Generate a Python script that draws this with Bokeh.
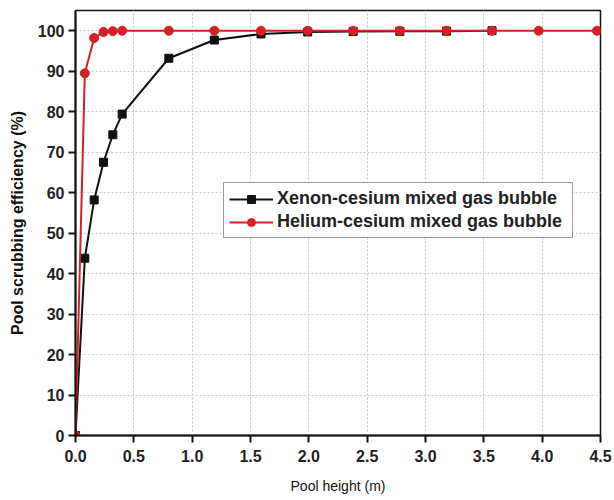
from bokeh.plotting import figure
from bokeh.models import Range1d, Legend, SingleIntervalTicker, NumeralTickFormatter
from bokeh.embed import file_html
from bokeh.resources import INLINE

# Data
xenon_x = [0.0, 0.08, 0.16, 0.24, 0.32, 0.40, 0.80, 1.19, 1.59, 1.99, 2.38, 2.78, 3.18, 3.57]
xenon_y = [0.0, 43.8, 58.2, 67.5, 74.3, 79.4, 93.2, 97.7, 99.2, 99.7, 99.8, 99.85, 99.9, 100.0]

helium_x = [0.0, 0.08, 0.16, 0.24, 0.32, 0.40, 0.80, 1.19, 1.59, 1.99, 2.38, 2.78, 3.18, 3.57, 3.97, 4.47]
helium_y = [0.0, 89.5, 98.2, 99.7, 99.9, 100.0, 100.0, 100.0, 100.0, 100.0, 100.0, 100.0, 100.0, 100.0, 100.0, 100.0]

x_label = "Pool height (m)"
y_label = "Pool scrubbing efficiency (%)"
xenon_name = "Xenon-cesium mixed gas bubble"
helium_name = "Helium-cesium mixed gas bubble"

FONT = "Liberation Sans"
BLACK = "#111111"
RED = "#d42027"

p = figure(width=612, height=500, output_backend="svg", toolbar_location=None,
           x_range=Range1d(0, 4.5), y_range=Range1d(0, 105),
           min_border_left=75, min_border_right=12, min_border_top=10, min_border_bottom=65)

p.outline_line_color = BLACK
p.outline_line_width = 1.5
p.background_fill_color = "white"
p.border_fill_color = "white"

for ax in (p.xaxis[0], p.yaxis[0]):
    ax.axis_line_width = 2
    ax.axis_line_color = BLACK
    ax.major_tick_line_width = 2
    ax.major_tick_line_color = BLACK
    ax.major_tick_out = 7
    ax.major_tick_in = 0
    ax.minor_tick_line_color = None
    ax.major_label_text_font = FONT
    ax.major_label_text_font_style = "bold"
    ax.major_label_text_font_size = "16px"
    ax.major_label_text_color = "#222222"
    ax.axis_label_text_font = FONT
    ax.axis_label_text_font_size = "14px"
    ax.axis_label_text_color = "#111111"

p.xaxis.ticker = SingleIntervalTicker(interval=0.5)
p.xaxis.formatter = NumeralTickFormatter(format="0.0")
p.yaxis.ticker = SingleIntervalTicker(interval=10)
p.xaxis.axis_label = x_label
p.xaxis.axis_label_text_font_style = "normal"
p.xaxis.major_label_standoff = 7
p.xaxis.axis_label_standoff = 13
p.yaxis.axis_label = y_label
p.yaxis.axis_label_text_font_style = "bold"
p.yaxis.axis_label_text_font_size = "16px"
p.yaxis.major_label_standoff = 4
p.yaxis.axis_label_standoff = 9

for g in (p.xgrid[0], p.ygrid[0]):
    g.grid_line_color = "#c8c8c8"
    g.grid_line_dash = "2 2"
    g.grid_line_width = 1

xl = p.line(xenon_x, xenon_y, line_color=BLACK, line_width=2)
xs = p.scatter(xenon_x, xenon_y, marker="square", size=8, fill_color=BLACK, line_color=BLACK)
hl = p.line(helium_x, helium_y, line_color=RED, line_width=2)
hs = p.scatter(helium_x, helium_y, marker="circle", size=9, fill_color=RED, line_color=RED)

legend = Legend(items=[(xenon_name, [xl, xs]), (helium_name, [hl, hs])],
                location=(148, 197))
legend.label_text_font = FONT
legend.label_text_font_style = "bold"
legend.label_text_font_size = "18px"
legend.label_text_color = "#222222"
legend.glyph_width = 44
legend.label_standoff = 4
legend.padding = 5
legend.spacing = 2
legend.label_height = 20
legend.glyph_height = 20
legend.label_width = 290
legend.border_line_color = "#333333"
legend.border_line_width = 1
legend.background_fill_color = "white"
legend.margin = 0
p.add_layout(legend, "center")

open("out.html", "w").write(file_html(p, INLINE))
